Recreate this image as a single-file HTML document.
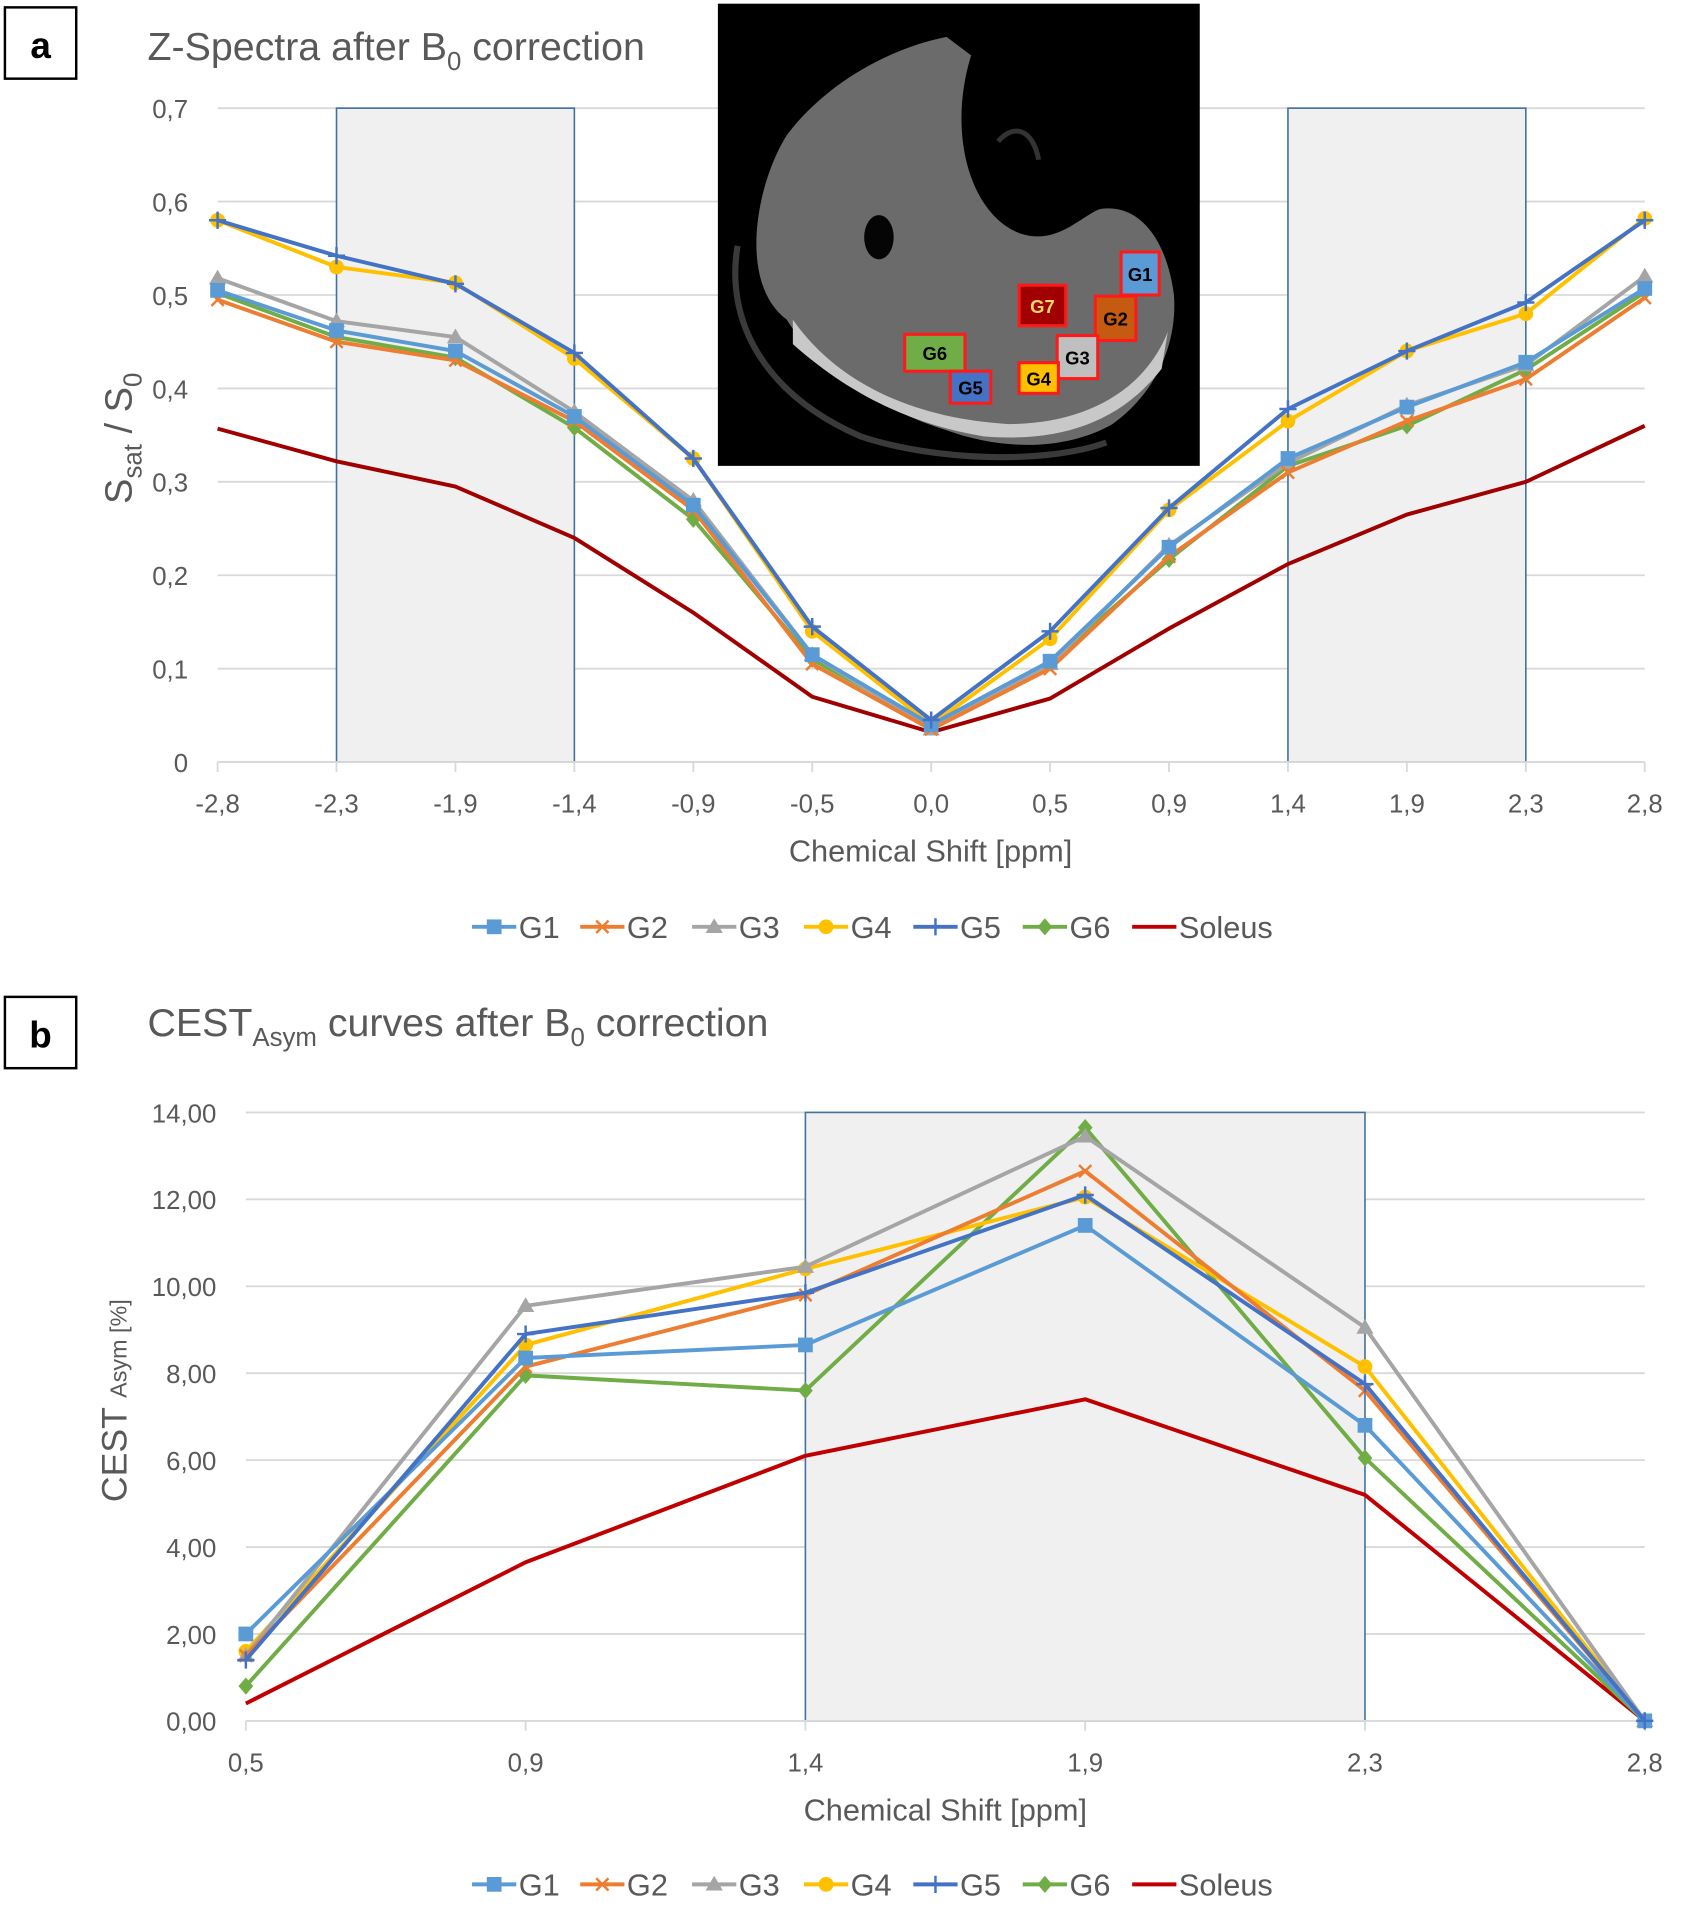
<!DOCTYPE html>
<html><head><meta charset="utf-8"><style>
html,body{margin:0;padding:0;background:#fff}
svg{display:block}
text{font-family:"Liberation Sans",sans-serif}
</style></head><body>
<svg id="svg" width="1689" height="1928" viewBox="0 0 1374 1568.5" preserveAspectRatio="none" xmlns="http://www.w3.org/2000/svg">
<rect width="1380" height="1575" fill="#fff"/>
<g id="pa"></g>
<g id="pb"></g>
</svg>
<script>
const seriesNames=["G1","G2","G3","G4","G5","G6","Soleus"];
const catsA=["-2,8","-2,3","-1,9","-1,4","-0,9","-0,5","0,0","0,5","0,9","1,4","1,9","2,3","2,8"];
const g1A=[.505,.462,.44,.37,.275,.115,.04,.108,.23,.325,.38,.428,.507];
const g2A=[.495,.45,.43,.365,.27,.105,.035,.10,.22,.31,.365,.41,.497];
const g3A=[.518,.472,.455,.375,.28,.115,.035,.105,.232,.32,.382,.425,.52];
const g4A=[.58,.53,.513,.432,.325,.14,.04,.132,.27,.365,.44,.48,.582];
const g5A=[.58,.542,.512,.438,.325,.145,.045,.14,.272,.378,.44,.492,.58];
const g6A=[.502,.455,.433,.358,.26,.11,.04,.107,.217,.317,.36,.42,.503];
const solA=[.357,.322,.295,.24,.16,.07,.032,.068,.143,.212,.265,.3,.36];
const ticksA=["0","0,1","0,2","0,3","0,4","0,5","0,6","0,7"];
const catsB=["0,5","0,9","1,4","1,9","2,3","2,8"];
const g1B=[2.0,8.35,8.65,11.4,6.8,0];
const g2B=[1.5,8.15,9.8,12.65,7.6,0];
const g3B=[1.5,9.55,10.45,13.45,9.05,0];
const g4B=[1.6,8.65,10.4,12.05,8.15,0];
const g5B=[1.4,8.9,9.85,12.1,7.75,0];
const g6B=[0.8,7.95,7.6,13.65,6.05,0];
const solB=[0.4,3.65,6.1,7.4,5.2,0];
const ticksB=["0,00","2,00","4,00","6,00","8,00","10,00","12,00","14,00"];

const NS="http://www.w3.org/2000/svg";
function mk(p,tag,at,txt){const e=document.createElementNS(NS,tag);for(const k in at)e.setAttribute(k,at[k]);if(txt!==undefined)e.textContent=txt;p.appendChild(e);return e;}
const colors=["#5b9bd5","#ed7d31","#a5a5a5","#ffc000","#4472c4","#70ad47","#c00000"];
const markers=["square","x","tri","circle","plus","diamond","none"];
function marker(g,type,x,y,c){
  let e;
  if(type==="square")e=mk(g,"rect",{x:x-6,y:y-6,width:12,height:12,fill:c});
  else if(type==="circle")e=mk(g,"circle",{cx:x,cy:y,r:6,fill:c});
  else if(type==="tri")e=mk(g,"path",{d:`M${x} ${y-7}L${x+7} ${y+5}L${x-7} ${y+5}Z`,fill:c});
  else if(type==="diamond")e=mk(g,"path",{d:`M${x} ${y-7}L${x+6} ${y}L${x} ${y+7}L${x-6} ${y}Z`,fill:c});
  else if(type==="x")e=mk(g,"path",{d:`M${x-5} ${y-5}L${x+5} ${y+5}M${x-5} ${y+5}L${x+5} ${y-5}`,stroke:c,"stroke-width":2});
  else if(type==="plus")e=mk(g,"path",{d:`M${x-7} ${y}L${x+7} ${y}M${x} ${y-7}L${x} ${y+7}`,stroke:c,"stroke-width":2});
  if(e){
  }
}
function chart(root,cfg){
  const {x0,x1,y0,y1,max,cats,ticks,series,boxes,ymarks,solColor}=cfg;
  const X=i=>x0+(x1-x0)*i/(cats.length-1);
  const Y=v=>y0-(y0-y1)*v/max;
  ticks.forEach((t,i)=>{const v=max*i/(ticks.length-1);
    const l=mk(root,"line",{x1:x0,x2:x1,y1:Y(v),y2:Y(v),stroke:"#d9d9d9","stroke-width":1.5});
    
    
    const tx=mk(root,"text",{x:x0-24,y:Y(v)+8,"text-anchor":"end","font-size":21,fill:"#595959"},t);
    
    
  });
  boxes.forEach(b=>{const r=mk(root,"rect",{x:X(b[0]),y:Y(max),width:X(b[1])-X(b[0]),height:Y(0)-Y(max),fill:"#f0f0f0",stroke:"#41719c","stroke-width":1.3});
    
    });
  cats.forEach((c,i)=>{
    const t=mk(root,"line",{x1:X(i),x2:X(i),y1:y0,y2:y0+8,stroke:"#d9d9d9","stroke-width":1.5});
    
    
    const tx=mk(root,"text",{x:X(i),y:y0+41,"text-anchor":"middle","font-size":21,fill:"#595959"},c);
    
    
  });
  const ax=mk(root,"line",{x1:x0,x2:x1,y1:y0,y2:y0,stroke:"#d9d9d9","stroke-width":1.5});
  
  
  [6,5,3,2,1,0,4].forEach(si=>{
    const vals=series[si];const g=mk(root,"g",{});
    
    
    const c=si===6?solColor:colors[si];
    const pts=vals.map((v,i)=>X(i)+","+Y(v)).join(" ");
    const pl=mk(g,"polyline",{points:pts,fill:"none",stroke:c,"stroke-width":3.2,"stroke-linejoin":"round"});
    
    
    if(ymarks)vals.forEach((v,i)=>marker(g,markers[si],X(i),Y(v),c));
  });
}
function legend(root,y){
  const g=mk(root,"g",{});
  
  
  const xs=[384,472,563,654,743,832,921];
  seriesNames.forEach((n,i)=>{
    const e=mk(g,"g",{});
    
    
    mk(e,"line",{x1:xs[i],x2:xs[i]+36,y1:y,y2:y,stroke:colors[i],"stroke-width":3.2});
    marker(e,markers[i],xs[i]+18,y,colors[i]);
    mk(e,"text",{x:xs[i]+38,y:y+9,"font-size":25,fill:"#595959"},n);
  });
}
function labelBox(root,x,y,t){
  const g=mk(root,"g",{});
  
  
  mk(g,"rect",{x:x,y:y,width:58,height:58,fill:"#fff",stroke:"#000","stroke-width":2});
  mk(g,"text",{x:x+29,y:y+41,"text-anchor":"middle","font-size":30,"font-weight":"bold"},t);
}
const pa=document.getElementById("pa"),pb=document.getElementById("pb");
labelBox(pa,4,6,"a");
let t=mk(pa,"text",{x:120,y:49,"font-size":32,fill:"#595959"});


t.innerHTML='Z-Spectra after B<tspan font-size="21" dy="8">0</tspan><tspan dy="-8"> correction</tspan>';
chart(pa,{x0:177,x1:1338,y0:620,y1:88,max:0.7,cats:catsA,ticks:ticksA,series:[g1A,g2A,g3A,g4A,g5A,g6A,solA],boxes:[[1,3],[9,11]],ymarks:true,solColor:"#a00000"});
t=mk(pa,"text",{transform:"translate(107,410) rotate(-90)","font-size":31,fill:"#595959"});


t.innerHTML='S<tspan font-size="21" dy="8">sat</tspan><tspan dy="-8"> / S</tspan><tspan font-size="21" dy="8">0</tspan>';
t=mk(pa,"text",{x:757,y:701,"text-anchor":"middle","font-size":25,fill:"#595959"},"Chemical Shift [ppm]");


legend(pa,754);
const im=mk(pa,"g",{});


mk(im,"rect",{x:584,y:3,width:392,height:376,fill:"#000"});
mk(im,"path",{d:"M640 260 C600 230 615 150 640 110 C670 70 720 40 770 30 L790 45 C770 110 790 175 830 190 C860 200 880 175 895 170 C930 165 950 200 955 240 C958 280 940 320 905 345 C870 365 820 368 770 350 C720 335 665 300 640 260Z",fill:"#6b6b6b"});
mk(im,"path",{d:"M645 280 C690 320 740 345 800 355 C860 360 910 345 945 300 L950 270 C930 320 880 345 820 345 C740 340 680 310 645 260Z",fill:"#c8c8c8"});
mk(im,"path",{d:"M600 200 C590 260 620 320 700 355 C760 375 850 378 900 360",fill:"none",stroke:"#3a3a3a","stroke-width":5});
mk(im,"ellipse",{cx:715,cy:193,rx:12,ry:18,fill:"#050505"});
mk(im,"path",{d:"M812 115 C825 100 840 105 845 130",fill:"none",stroke:"#333","stroke-width":4});
[[912,205,31,35,"#5b9bd5","G1","#000"],[829,232,38,33,"#a00000","G7","#ffd966"],[891,241,33,36,"#c55a11","G2","#000"],[860,273,33,35,"#bfbfbf","G3","#000"],[829,295,32,25,"#ffc000","G4","#000"],[736,272,49,30,"#70ad47","G6","#000"],[773,302,33,26,"#4472c4","G5","#000"]].forEach(b=>{
  const g=mk(im,"g",{});
  
  
  mk(g,"rect",{x:b[0],y:b[1],width:b[2],height:b[3],fill:b[4],stroke:"#ff1a1a","stroke-width":2.5});
  mk(g,"text",{x:b[0]+b[2]/2,y:b[1]+b[3]/2+6,"text-anchor":"middle","font-size":15,"font-weight":"bold",fill:b[6]},b[5]);
});
labelBox(pb,4,811,"b");
t=mk(pb,"text",{x:120,y:843,"font-size":32,fill:"#595959"});


t.innerHTML='CEST<tspan font-size="21" dy="8">Asym</tspan><tspan dy="-8"> curves after B</tspan><tspan font-size="21" dy="8">0</tspan><tspan dy="-8"> correction</tspan>';
chart(pb,{x0:200,x1:1338,y0:1400,y1:905,max:14,cats:catsB,ticks:ticksB,series:[g1B,g2B,g3B,g4B,g5B,g6B,solB],boxes:[[2,4]],ymarks:true,solColor:"#c00000"});
t=mk(pb,"text",{transform:"translate(103,1222) rotate(-90)","font-size":29,fill:"#595959"});


t.innerHTML='CEST <tspan font-size="19">Asym</tspan><tspan font-size="19"> [%]</tspan>';
t=mk(pb,"text",{x:769,y:1481,"text-anchor":"middle","font-size":25,fill:"#595959"},"Chemical Shift [ppm]");


legend(pb,1533);
</script>
</body></html>
